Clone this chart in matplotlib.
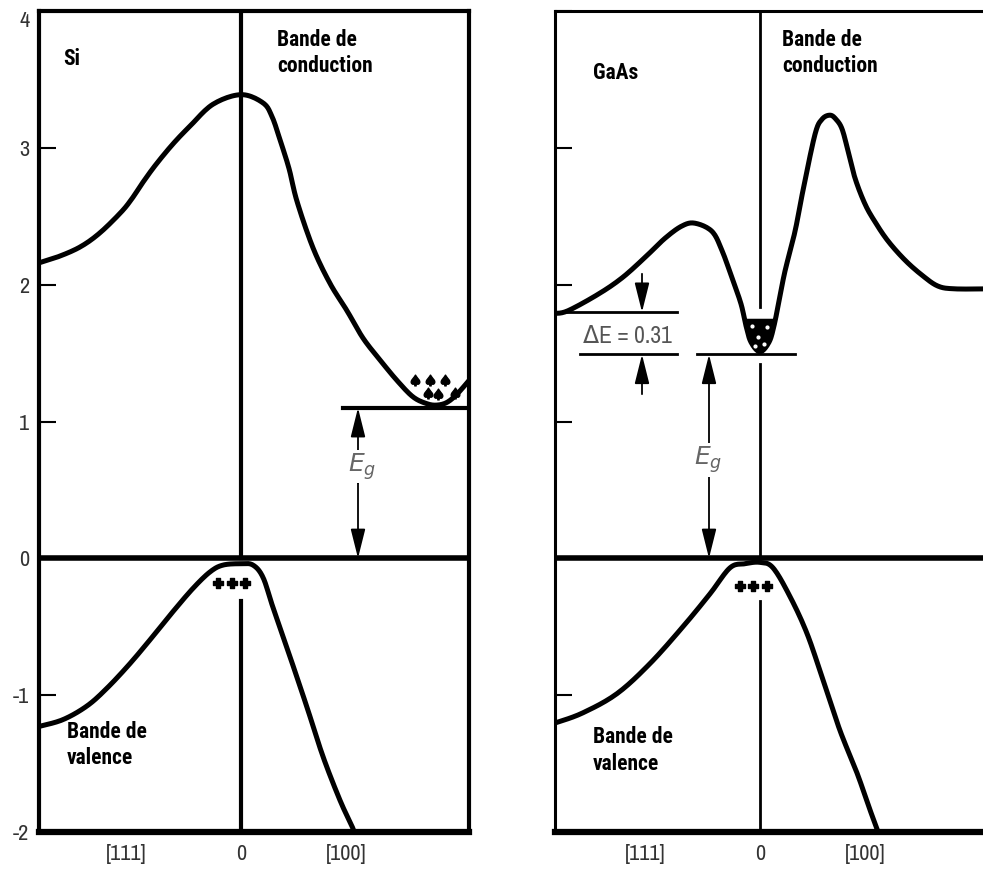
import numpy as np
import matplotlib
matplotlib.use('Agg')
import matplotlib.pyplot as plt
from matplotlib import font_manager

installed = {f.name for f in font_manager.fontManager.ttflist}
FONT = 'Archivo Narrow' if 'Archivo Narrow' in installed else 'DejaVu Sans'
BOLD = 'Roboto Condensed' if 'Roboto Condensed' in installed else FONT
plt.rcParams['font.family'] = [FONT, 'DejaVu Sans']
plt.rcParams['axes.unicode_minus'] = False

# wave vector (arbitrary units, 0 = Gamma) and energy (eV)
si_cb_k = [-2.02, -1.81, -1.60, -1.41, -1.20, -1.09, -0.98, -0.85, -0.68, -0.51, -0.28, 0.0,
           0.22, 0.31, 0.39, 0.48, 0.56, 0.72, 0.89, 1.06, 1.22, 1.39, 1.56, 1.72, 1.86, 1.96,
           2.06, 2.16, 2.28]
si_cb_e = [2.16, 2.21, 2.28, 2.38, 2.53, 2.63, 2.75, 2.88, 3.03, 3.16, 3.32, 3.39,
           3.33, 3.23, 3.06, 2.85, 2.61, 2.27, 2.01, 1.81, 1.61, 1.45, 1.30, 1.18, 1.13, 1.12,
           1.14, 1.20, 1.30]
si_vb_k = [-2.02, -1.78, -1.54, -1.34, -1.11, -0.88, -0.68, -0.48, -0.31, -0.18, 0.0, 0.12,
           0.22, 0.32, 0.49, 0.66, 0.82, 0.99, 1.11, 1.13]
si_vb_e = [-1.23, -1.18, -1.08, -0.95, -0.77, -0.57, -0.39, -0.22, -0.10, -0.05, -0.04, -0.05,
           -0.14, -0.36, -0.72, -1.09, -1.45, -1.77, -1.96, -2.0]

gaas_cb_k = [-2.05, -1.92, -1.62, -1.38, -1.15, -0.95, -0.78, -0.65, -0.48, -0.38, -0.28, -0.19,
             -0.14, -0.09, 0.0, 0.09, 0.14, 0.19, 0.25, 0.35, 0.43, 0.55, 0.62, 0.70, 0.76,
             0.82, 0.88, 0.95, 1.05, 1.15, 1.28, 1.45, 1.62, 1.78, 1.95, 2.27]
gaas_cb_e = [1.79, 1.81, 1.93, 2.05, 2.20, 2.34, 2.43, 2.45, 2.39, 2.25, 2.05, 1.86,
             1.70, 1.58, 1.51, 1.58, 1.70, 1.88, 2.10, 2.39, 2.69, 3.10, 3.21, 3.24, 3.21,
             3.14, 2.98, 2.78, 2.59, 2.46, 2.32, 2.18, 2.07, 1.99, 1.97, 1.97]
gaas_vb_k = [-2.05, -2.03, -1.77, -1.43, -1.10, -0.77, -0.50, -0.30, -0.15, 0.0, 0.13, 0.30,
             0.47, 0.63, 0.80, 0.97, 1.10, 1.18]
gaas_vb_e = [-1.20, -1.20, -1.13, -0.99, -0.77, -0.50, -0.26, -0.07, -0.04, -0.03, -0.07, -0.28,
             -0.55, -0.89, -1.26, -1.57, -1.84, -2.0]

si_gap = 1.10
gaas_L = 1.80
gaas_dE = 0.31
gaas_gap = gaas_L - gaas_dE

si_elec_k = [1.74, 1.89, 2.04, 1.87, 1.97, 2.14]
si_elec_e = [1.30, 1.30, 1.30, 1.21, 1.20, 1.21]
si_hole_k = [-0.23, -0.09, 0.04]
si_hole_e = [-0.18, -0.18, -0.18]
gaas_hole_k = [-0.20, -0.07, 0.07]
gaas_hole_e = [-0.20, -0.20, -0.20]
gaas_elec_k = [-0.08, 0.07, -0.02, 0.04, -0.05]
gaas_elec_e = [1.70, 1.69, 1.62, 1.57, 1.55]

k_ticks = [-1.15, 0, 1.05]
k_labels = ['[111]', '0', '[100]']
e_ticks = [-2, -1, 0, 1, 2, 3, 4]


def smooth(xs, ys, n=12):
    # Catmull-Rom pass through the points, just so the bands render as curves
    p = np.column_stack([xs, ys])
    P = np.vstack([p[0], p, p[-1]])
    t = np.linspace(0, 1, n, endpoint=False)[:, None]
    out = []
    for i in range(1, len(P) - 2):
        p0, p1, p2, p3 = P[i - 1], P[i], P[i + 1], P[i + 2]
        out.append(0.5 * (2 * p1 + (p2 - p0) * t + (2 * p0 - 5 * p1 + 4 * p2 - p3) * t ** 2
                          + (3 * p1 - p0 - 3 * p2 + p3) * t ** 3))
    out.append(p[-1:])
    out = np.vstack(out)
    return out[:, 0], out[:, 1]


W, H = 983, 871
fig = plt.figure(figsize=(W / 100, H / 100), dpi=100)
bottom = 1 - 831.75 / H
height = (831.75 - 11.25) / H
ax1 = fig.add_axes([39 / W, bottom, 430 / W, height])
ax2 = fig.add_axes([555 / W, bottom, 432 / W, height])

LAB = dict(fontsize=15.5, fontweight='bold', color='black', family=[BOLD, 'DejaVu Sans'])
ARROW = dict(arrowstyle='-|>,head_length=1.8,head_width=0.45', lw=1.3, color='black',
             shrinkA=0, shrinkB=0, mutation_scale=10)


def frame(ax, xlim, lw_side):
    ax.set_xlim(*xlim)
    ax.set_ylim(-2, 4)
    ax.set_xticks(k_ticks)
    ax.set_xticklabels(k_labels)
    ax.set_yticks(e_ticks)
    ax.tick_params(axis='x', length=0, pad=9, labelsize=16, labelcolor='#333333')
    ax.tick_params(axis='y', direction='in', length=12, width=1.5, pad=7,
                   labelsize=16, labelcolor='#333333')
    for side in ('left', 'top', 'right'):
        ax.spines[side].set_linewidth(lw_side)
    ax.spines['bottom'].set_linewidth(4.5)
    ax.axhline(0, color='black', lw=4, zorder=3)


def band(ax, k, e):
    xs, ys = smooth(k, e)
    ax.plot(xs, ys, color='black', lw=3.6, solid_joinstyle='round', solid_capstyle='round',
            zorder=4)
    return xs, ys


def double_arrow(ax, x, e0, e1):
    ax.annotate('', xy=(x, e1), xytext=(x, (e0 + e1) / 2), arrowprops=ARROW)
    ax.annotate('', xy=(x, e0), xytext=(x, (e0 + e1) / 2), arrowprops=ARROW)


# --- Si ---
frame(ax1, (-2.02, 2.28), 3)
ax1.plot([0, 0], [0, 4], color='black', lw=3)
ax1.plot([0, 0], [-0.31, -2], color='black', lw=3)
ax1.plot([1.02, 2.28], [si_gap, si_gap], color='black', lw=3)
band(ax1, si_cb_k, si_cb_e)
band(ax1, si_vb_k, si_vb_e)
ax1.scatter(si_elec_k, si_elec_e, marker=r'$\spadesuit$', s=60, color='black', zorder=5)
ax1.scatter(si_hole_k, si_hole_e, marker='P', s=55, color='black', zorder=5)
double_arrow(ax1, 1.17, 0, si_gap)
ax1.text(1.21, 0.67, r'$E_g$', fontsize=18, color='#666666', ha='center', va='center',
         bbox=dict(facecolor='white', edgecolor='none', pad=1), zorder=6)
ax1.text(-1.78, 3.65, 'Si', ha='left', va='center', **LAB)
ax1.text(0.36, 3.87, 'Bande de\nconduction', ha='left', va='top', linespacing=1.25, **LAB)
ax1.text(-1.74, -1.19, 'Bande de\nvalence', ha='left', va='top', linespacing=1.25, **LAB)

# --- GaAs ---
frame(ax2, (-2.05, 2.27), 2.2)
ax2.set_yticklabels([])
ax2.plot([0, 0], [4, 1.84], color='black', lw=2)
ax2.plot([0, 0], [1.42, 0], color='black', lw=2)
ax2.plot([0, 0], [-0.31, -2], color='black', lw=2)
ax2.plot([-2.05, -0.83], [gaas_L, gaas_L], color='black', lw=2)
ax2.plot([-1.80, -0.83], [gaas_gap, gaas_gap], color='black', lw=2)
ax2.plot([-0.63, 0.35], [gaas_gap, gaas_gap], color='black', lw=2)
cx, cy = band(ax2, gaas_cb_k, gaas_cb_e)
band(ax2, gaas_vb_k, gaas_vb_e)
ax2.fill_between(cx, cy, 1.75, where=cy <= 1.75, interpolate=True, color='black', zorder=4)
ax2.scatter(gaas_elec_k, gaas_elec_e, s=4, color='white', zorder=5)
ax2.scatter(gaas_hole_k, gaas_hole_e, marker='P', s=55, color='black', zorder=5)
ax2.annotate('', xy=(-1.18, gaas_L), xytext=(-1.18, 2.08), arrowprops=ARROW)
ax2.annotate('', xy=(-1.18, gaas_gap), xytext=(-1.18, 1.20), arrowprops=ARROW)
ax2.text(-1.33, 1.62, f'ΔE = {gaas_dE:.2f}', fontsize=17, color='#555555',
         ha='center', va='center')
double_arrow(ax2, -0.51, 0, gaas_gap)
ax2.text(-0.52, 0.72, r'$E_g$', fontsize=18, color='#666666', ha='center', va='center',
         bbox=dict(facecolor='white', edgecolor='none', pad=1), zorder=6)
ax2.text(-1.67, 3.55, 'GaAs', ha='left', va='center', **LAB)
ax2.text(0.22, 3.87, 'Bande de\nconduction', ha='left', va='top', linespacing=1.25, **LAB)
ax2.text(-1.67, -1.23, 'Bande de\nvalence', ha='left', va='top', linespacing=1.25, **LAB)

ax1.get_yticklabels()[-1].set_va('top')

fig.savefig('out.png', dpi=100)
